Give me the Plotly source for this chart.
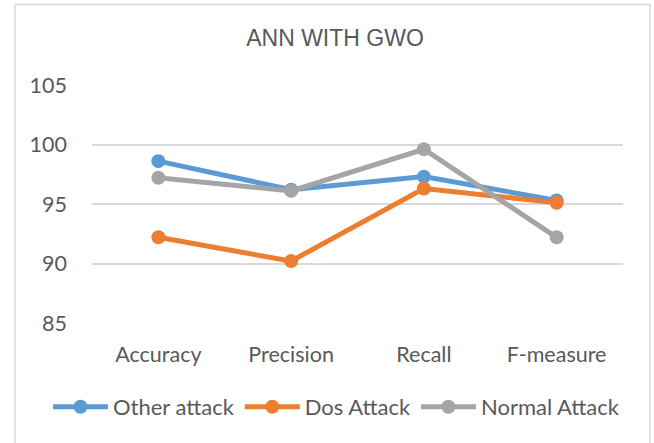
import plotly.graph_objects as go

categories = ["Accuracy", "Precision", "Recall", "F-measure"]
other_attack = [98.6, 96.2, 97.3, 95.3]
dos_attack = [92.2, 90.2, 96.3, 95.1]
normal_attack = [97.2, 96.1, 99.6, 92.2]
y_ticks = [85, 90, 95, 100, 105]

series = [
    ("Other attack", other_attack, "#5B9BD5"),
    ("Dos Attack", dos_attack, "#ED7D31"),
    ("Normal Attack", normal_attack, "#A5A5A5"),
]

FONT = "Lato, 'Open Sans', sans-serif"
TXT = "#595959"

fig = go.Figure()
for name, vals, col in series:
    fig.add_trace(go.Scatter(
        x=categories, y=vals, name=name, mode="lines+markers",
        line=dict(color=col, width=5),
        marker=dict(color=col, size=14),
    ))

W, H = 654, 443
L, R, T, B = 92, 31, 85, 120
pw, ph = W - L - R, H - T - B

def px_x(p):
    return (p - L) / pw

def px_y(p):
    return (H - B - p) / ph

fig.add_shape(type="rect", xref="paper", yref="paper",
              x0=px_x(15), x1=px_x(650), y0=px_y(446), y1=px_y(4.5),
              line=dict(color="#D9D9D9", width=1.5), fillcolor="rgba(0,0,0,0)", layer="below")

fig.update_layout(
    width=W, height=H,
    margin=dict(l=L, r=R, t=T, b=B),
    paper_bgcolor="white", plot_bgcolor="white",
    font=dict(family=FONT, color=TXT, size=22),
    title=dict(text="ANN WITH GWO", x=335 / W, xanchor="center",
               y=1 - 38 / H, yanchor="middle",
               font=dict(family="'Liberation Sans', Arial, sans-serif", size=23, color=TXT)),
    xaxis=dict(showgrid=False, showline=False, zeroline=False,
               ticklabelstandoff=16, tickfont=dict(size=21.5, color=TXT),
               range=[-0.5, 3.5]),
    yaxis=dict(range=[85, 105], tickvals=y_ticks, showgrid=True,
               gridcolor="#D9D9D9", gridwidth=1.5, zeroline=False, showline=False,
               ticklabelstandoff=24, tickfont=dict(size=21.5, color=TXT)),
    legend=dict(orientation="h", x=px_x(48), xanchor="left", y=px_y(407), yanchor="middle",
                font=dict(size=22, color=TXT), itemwidth=55, tracegroupgap=0,
                bgcolor="rgba(0,0,0,0)"),
    showlegend=True,
)

fig.write_html("out.html", config={"displayModeBar": False},
               post_script="document.body.style.margin='0';")
